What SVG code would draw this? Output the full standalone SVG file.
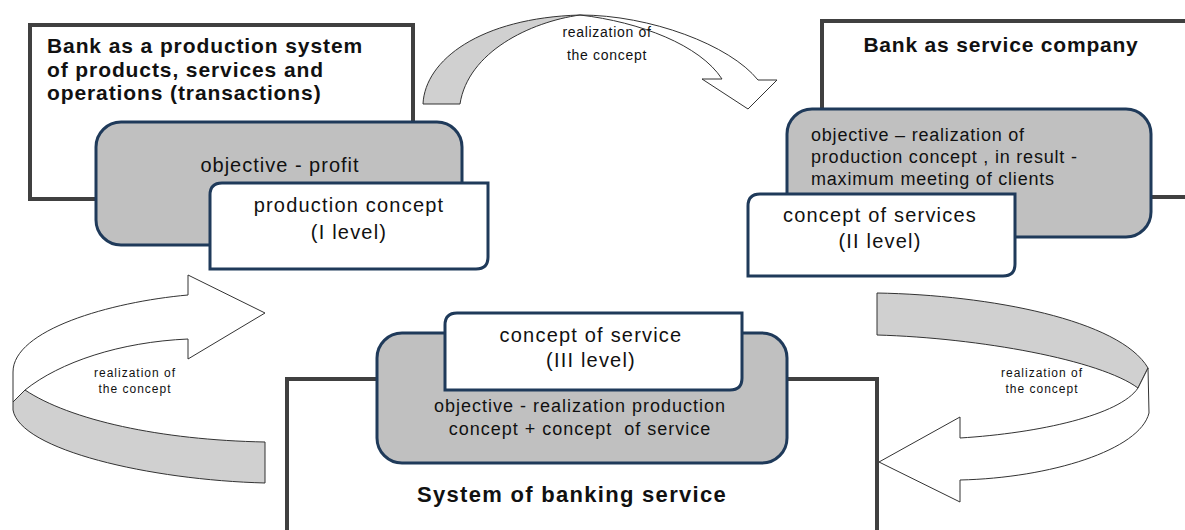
<svg xmlns="http://www.w3.org/2000/svg" width="1185" height="530" viewBox="0 0 1185 530">
<style>
.frame{fill:#fff;stroke:#404040;stroke-width:4}
.obj{fill:#c0c0c0;stroke:#1f3a5a;stroke-width:3}
.lvl{fill:#fff;stroke:#1f3a5a;stroke-width:3}
.arw{stroke:#333;stroke-width:1;stroke-linejoin:miter}
.g{fill:#d0d0d0}
.w{fill:#fff}
text{font-family:"Liberation Sans",Arial,sans-serif;fill:#111}
.ttl{font-size:21px;font-weight:bold}
.big{font-size:20px;letter-spacing:1.2px}
.mid{font-size:18px;letter-spacing:0.8px}
.lab{font-size:12px;letter-spacing:1px}
.c{text-anchor:middle}
</style>
<rect width="1185" height="530" fill="#fff"/>
<g id="connectors">
  <g id="arrow-top">
    <path class="arw g" d="M423,104 C425,60 480,18 580,15 C530,22 468,52 460,104 Z"/>
    <path class="arw w" d="M580,15 C650,15 730,45 758,80 L777,80 L748,109 L702,79 L722,79 C700,45 640,22 580,15 Z"/>
    <text class="c" x="607" y="37" style="font-size:14px;letter-spacing:0.7px">realization of</text>
    <text class="c" x="607" y="60" style="font-size:14px;letter-spacing:0.7px">the concept</text>
  </g>
  <g id="arrow-left">
    <path class="arw w" d="M188,295 C110,302 13,330 13,372 L13,402 L25,390 C60,362 120,342 188,339 L188,359 L265,313 L188,275 Z"/>
    <path class="arw g" d="M25,390 C70,420 160,440 265,442 L265,483 C150,480 20,450 13,410 L13,402 Z"/>
    <text class="c lab" x="135" y="377">realization of</text>
    <text class="c lab" x="135" y="393">the concept</text>
  </g>
  <g id="arrow-right">
    <path class="arw g" d="M877,293 C990,295 1120,320 1148,368 L1138,388 C1100,360 980,338 877,335 Z"/>
    <path class="arw w" d="M1148,368 L1149,413 C1140,450 1050,478 960,480 L960,502 L879,462 L960,417 L960,438 C1040,433 1120,415 1138,388 Z"/>
    <text class="c lab" x="1042" y="377">realization of</text>
    <text class="c lab" x="1042" y="393">the concept</text>
  </g>
</g>
<g id="node-production">
  <rect class="frame" x="30" y="25" width="383" height="174"/>
  <text class="ttl" x="47" y="53" style="letter-spacing:0.9px">Bank as a production system</text>
  <text class="ttl" x="47" y="77" style="letter-spacing:0.9px">of products, services and</text>
  <text class="ttl" x="47" y="100" style="letter-spacing:0.9px">operations (transactions)</text>
  <rect class="obj" x="96" y="122" width="366" height="123" rx="25"/>
  <text class="c big" x="280" y="172" style="letter-spacing:1px">objective - profit</text>
  <path class="lvl" d="M222,183 L488,183 L488,257 Q488,269 476,269 L210,269 L210,195 Q210,183 222,183 Z"/>
  <text class="c big" x="349" y="212">production concept</text>
  <text class="c big" x="349" y="239">(I level)</text>
</g>
<g id="node-service-company">
  <rect class="frame" x="822" y="21" width="400" height="176"/>
  <text class="ttl c" x="1001" y="52" style="letter-spacing:0.8px">Bank as service company</text>
  <rect class="obj" x="787" y="109" width="364" height="128" rx="25"/>
  <text class="mid" x="811" y="141">objective – realization of</text>
  <text class="mid" x="811" y="163">production concept , in result -</text>
  <text class="mid" x="811" y="185">maximum meeting of clients</text>
  <path class="lvl" d="M760,194 L1015,194 L1015,264 Q1015,276 1003,276 L748,276 L748,206 Q748,194 760,194 Z"/>
  <text class="c big" x="880" y="222">concept of services</text>
  <text class="c big" x="880" y="248">(II level)</text>
</g>
<g id="node-banking-service">
  <rect class="frame" x="287" y="379" width="590" height="200"/>
  <rect class="obj" x="377" y="333" width="410" height="130" rx="25"/>
  <path class="lvl" d="M457,313 L742,313 L742,378 Q742,390 730,390 L445,390 L445,325 Q445,313 457,313 Z"/>
  <text class="c big" x="591" y="342">concept of service</text>
  <text class="c big" x="591" y="367">(III level)</text>
  <text class="c mid" x="580" y="412" style="letter-spacing:1px">objective - realization production</text>
  <text class="c mid" x="580" y="435" style="letter-spacing:1px" xml:space="preserve">concept + concept  of service</text>
  <text class="c ttl" x="572" y="502" style="font-size:22px;letter-spacing:1.3px">System of banking service</text>
</g>
</svg>
